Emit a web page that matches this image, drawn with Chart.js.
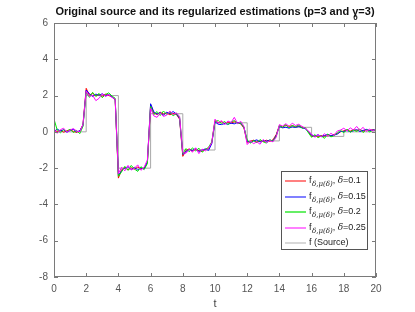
<!DOCTYPE html>
<html>
<head>
<meta charset="utf-8">
<script src="https://cdn.jsdelivr.net/npm/chart.js@4.4.0/dist/chart.umd.min.js"></script>
<style>
  html, body { margin: 0; padding: 0; background: #fff; }
  #wrap { width: 415px; height: 312px; }
</style>
</head>
<body>
<div id="wrap"><canvas id="grafica" width="415" height="312"></canvas></div>
<script>
const paso = 0.2;

const estRojo = [
  0.10, 0.02, 0.08, -0.02, 0.06, 0.12, 0.03, -0.03, 0.05, 0.40,
  2.40, 2.02, 2.12, 1.98, 2.06, 1.96, 2.08, 2.00, 1.94, 1.75,
  -2.55, -2.08, -1.96, -2.10, -1.98, -2.06, -1.94, -2.04, -2.00, -1.70,
  1.50, 1.04, 0.96, 1.08, 0.98, 1.04, 0.94, 1.02, 0.96, 0.70,
  -1.35, -1.02, -0.94, -1.06, -0.96, -1.04, -1.08, -0.96, -0.92, -0.60,
  0.62, 0.50, 0.56, 0.46, 0.54, 0.48, 0.56, 0.50, 0.44, 0.20,
  -0.58, -0.52, -0.46, -0.56, -0.50, -0.54, -0.46, -0.52, -0.44, -0.15,
  0.34, 0.28, 0.36, 0.30, 0.34, 0.28, 0.32, 0.26, 0.22, 0.02,
  -0.26, -0.22, -0.28, -0.20, -0.24, -0.18, -0.22, -0.14, -0.10, 0.00,
  0.06, 0.10, 0.04, 0.12, 0.08, 0.12, 0.04, 0.10, 0.08, 0.12,
  0.08
];

const estAzul = [
  0.02, 0.15, 0.05, 0.12, -0.02, 0.08, 0.14, 0.00, 0.06, 0.35,
  2.30, 2.10, 1.95, 2.08, 2.02, 2.10, 1.98, 2.06, 1.92, 1.80,
  -2.40, -2.15, -2.00, -1.92, -2.08, -1.96, -2.10, -1.98, -2.05, -1.65,
  1.55, 1.10, 0.98, 1.06, 0.92, 1.08, 1.00, 1.12, 0.98, 0.75,
  -1.25, -1.08, -0.98, -1.02, -0.92, -1.08, -1.00, -0.94, -1.02, -0.65,
  0.55, 0.42, 0.40, 0.46, 0.42, 0.48, 0.44, 0.52, 0.46, 0.25,
  -0.52, -0.58, -0.50, -0.44, -0.56, -0.48, -0.52, -0.45, -0.50, -0.20,
  0.30, 0.22, 0.26, 0.20, 0.28, 0.24, 0.30, 0.22, 0.18, 0.00,
  -0.18, -0.24, -0.16, -0.26, -0.20, -0.14, -0.22, -0.18, -0.12, 0.02,
  0.02, 0.08, 0.00, 0.06, 0.12, 0.02, 0.08, 0.14, 0.06, 0.10,
  0.12
];

const estVerde = [
  0.70, 0.10, -0.05, 0.12, 0.02, 0.15, -0.04, 0.08, -0.10, 0.30,
  2.20, 1.90, 2.18, 1.95, 2.12, 1.88, 2.06, 2.15, 1.98, 1.85,
  -2.45, -2.20, -1.90, -2.12, -1.85, -2.05, -2.18, -1.92, -2.08, -1.75,
  1.40, 0.95, 1.12, 0.90, 1.15, 0.96, 1.10, 0.88, 1.02, 0.80,
  -1.20, -0.92, -1.10, -0.88, -1.05, -0.90, -1.12, -0.98, -0.85, -0.55,
  0.58, 0.62, 0.45, 0.58, 0.40, 0.55, 0.62, 0.46, 0.50, 0.25,
  -0.45, -0.62, -0.48, -0.60, -0.42, -0.55, -0.62, -0.44, -0.52, -0.25,
  0.36, 0.25, 0.40, 0.22, 0.35, 0.28, 0.38, 0.20, 0.24, -0.05,
  -0.30, -0.15, -0.32, -0.22, -0.36, -0.12, -0.28, -0.20, -0.05, 0.08,
  -0.05, 0.15, -0.02, 0.10, 0.02, 0.16, -0.04, 0.12, 0.00, 0.08,
  0.10
];

const estMagenta = [
  0.15, -0.08, 0.12, 0.20, -0.02, 0.10, 0.18, 0.05, 0.00, 0.40,
  2.25, 1.95, 2.02, 1.72, 1.85, 2.10, 1.95, 2.05, 1.90, 1.80,
  -2.30, -1.95, -2.15, -1.85, -2.10, -2.00, -1.82, -2.12, -1.95, -1.55,
  1.30, 0.88, 0.80, 1.05, 0.85, 0.92, 1.15, 0.95, 1.05, 0.85,
  -1.15, -1.18, -0.95, -1.12, -0.88, -1.20, -0.95, -1.05, -0.90, -0.60,
  0.70, 0.48, 0.62, 0.40, 0.60, 0.52, 0.80, 0.45, 0.58, 0.30,
  -0.70, -0.50, -0.65, -0.55, -0.68, -0.42, -0.60, -0.48, -0.55, -0.30,
  0.40, 0.32, 0.45, 0.30, 0.48, 0.35, 0.42, 0.30, 0.20, 0.05,
  -0.12, -0.30, -0.15, -0.28, -0.10, -0.25, -0.08, -0.20, 0.05, 0.10,
  0.20, 0.05, 0.22, 0.10, 0.30, 0.08, 0.25, 0.02, 0.15, 0.05,
  0.15
];

// Fuente: escalones (inicio de cada tramo y su nivel)
const fuenteT = [0, 2, 4, 6, 8, 10, 12, 14, 16, 18, 20];
const fuenteNivel = [0, 2, -2, 1, -1, 0.5, -0.5, 0.25, -0.25, 0, 0];

const deltas = ['0.1', '0.15', '0.2', '0.25'];
const colores = ['#ff0000', '#0000ff', '#00ee00', '#ff00ff'];
const coloresLeyenda = ['#ff8080', '#8080ff', '#66ee66', '#ff80ff', '#d8d8d8'];
const colorFuente = '#a8a8a8';

const ticksX = [0, 2, 4, 6, 8, 10, 12, 14, 16, 18, 20];
const ticksY = [-8, -6, -4, -2, 0, 2, 4, 6];

function aPuntos(valores) {
  return valores.map((v, i) => ({ x: +(i * paso).toFixed(2), y: v }));
}

const series = [estRojo, estAzul, estVerde, estMagenta];
const datasets = series.map((s, i) => ({
  label: 'delta=' + deltas[i],
  data: aPuntos(s),
  borderColor: colores[i],
  borderWidth: 1,
  pointRadius: 0,
  tension: 0,
  order: 4 - i
}));
datasets.push({
  label: 'f (Source)',
  data: fuenteT.map((t, i) => ({ x: t, y: fuenteNivel[i] })),
  borderColor: colorFuente,
  borderWidth: 1,
  pointRadius: 0,
  stepped: true,
  order: 10
});

// Caja, marcas hacia dentro, titulo, etiqueta t y leyenda
const decoracion = {
  id: 'decoracion',
  afterDraw(chart) {
    const ctx = chart.ctx;
    const a = chart.chartArea;
    const sx = chart.scales.x, sy = chart.scales.y;
    ctx.save();
    ctx.strokeStyle = '#7a7a7a';
    ctx.lineWidth = 1;
    ctx.strokeRect(a.left + 0.5, a.top + 0.5, a.right - a.left - 1, a.bottom - a.top - 1);
    ctx.beginPath();
    ticksX.forEach(t => {
      const px = Math.round(sx.getPixelForValue(t)) + 0.5;
      ctx.moveTo(px, a.bottom); ctx.lineTo(px, a.bottom - 4);
      ctx.moveTo(px, a.top); ctx.lineTo(px, a.top + 4);
    });
    ticksY.forEach(v => {
      const py = Math.round(sy.getPixelForValue(v)) + 0.5;
      ctx.moveTo(a.left, py); ctx.lineTo(a.left + 4, py);
      ctx.moveTo(a.right, py); ctx.lineTo(a.right - 4, py);
    });
    ctx.stroke();

    // titulo
    ctx.fillStyle = '#111';
    ctx.textBaseline = 'alphabetic';
    ctx.font = 'bold 11px "Liberation Sans", Arial, sans-serif';
    const p1 = 'Original source and its regularized estimations (p=3 and ';
    const g = 'γ';
    const p2 = '=3)';
    const w1 = ctx.measureText(p1).width, wg = ctx.measureText(g).width, w2 = ctx.measureText(p2).width;
    let x0 = (a.left + a.right) / 2 - (w1 + wg + w2) / 2;
    ctx.fillText(p1, x0, 15);
    ctx.fillText(g, x0 + w1, 15);
    ctx.fillText(p2, x0 + w1 + wg, 15);
    ctx.font = 'bold 8px "Liberation Sans", Arial, sans-serif';
    ctx.fillText('0', x0 + w1 + 1, 20);

    // etiqueta eje x
    ctx.font = '11px "Liberation Sans", Arial, sans-serif';
    ctx.fillStyle = '#444';
    ctx.textAlign = 'center';
    ctx.fillText('t', (a.left + a.right) / 2, 307);
    ctx.textAlign = 'left';

    // leyenda
    const bx = 281.5, by = 171.5, bw = 86, bh = 78;
    ctx.fillStyle = '#fff';
    ctx.fillRect(bx, by, bw, bh);
    ctx.strokeStyle = '#555';
    ctx.strokeRect(bx, by, bw, bh);
    const filas = deltas.length + 1;
    for (let i = 0; i < filas; i++) {
      const yy = Math.round(180 + i * 15.6);
      ctx.fillStyle = coloresLeyenda[i];
      ctx.fillRect(285, yy, 21, 2);
      ctx.fillStyle = '#222';
      let x = 309;
      const base = yy + 3;
      if (i < deltas.length) {
        ctx.font = '9px "Liberation Sans", Arial, sans-serif';
        ctx.fillText('f', x, base); x += ctx.measureText('f').width + 0.5;
        ctx.font = 'italic 7px "DejaVu Serif", serif';
        ctx.fillText('δ,μ(δ)', x, base + 3); x += ctx.measureText('δ,μ(δ)').width;
        ctx.font = '9px "Liberation Sans", Arial, sans-serif';
        ctx.fillText(', ', x, base); x += ctx.measureText(', ').width;
        ctx.font = 'italic 9px "DejaVu Serif", serif';
        ctx.fillText('δ', x, base); x += ctx.measureText('δ').width;
        ctx.font = '9px "Liberation Sans", Arial, sans-serif';
        ctx.fillText('=' + deltas[i], x, base);
      } else {
        ctx.font = '9px "Liberation Sans", Arial, sans-serif';
        ctx.fillText('f (Source)', x, base);
      }
    }
    ctx.restore();
  }
};

new Chart(document.getElementById('grafica').getContext('2d'), {
  type: 'line',
  data: { datasets: datasets },
  options: {
    responsive: false,
    animation: false,
    layout: { padding: { top: 23, right: 39, left: 0, bottom: 0 } },
    plugins: { legend: { display: false }, title: { display: false }, tooltip: { enabled: false } },
    scales: {
      x: {
        type: 'linear', min: 0, max: 20,
        afterFit(scale) { scale.height = 35; },
        afterBuildTicks(scale) { scale.ticks = ticksX.map(v => ({ value: v })); },
        grid: { display: false, drawTicks: false },
        border: { display: false },
        ticks: { padding: 6, color: '#555', font: { family: '"Liberation Sans", Arial, sans-serif', size: 10 }, maxRotation: 0 }
      },
      y: {
        type: 'linear', min: -8, max: 6,
        afterFit(scale) { scale.width = 54; },
        afterBuildTicks(scale) { scale.ticks = ticksY.map(v => ({ value: v })); },
        grid: { display: false, drawTicks: false },
        border: { display: false },
        ticks: { padding: 6, color: '#555', font: { family: '"Liberation Sans", Arial, sans-serif', size: 10 } }
      }
    }
  },
  plugins: [decoracion]
});
</script>
</body>
</html>
